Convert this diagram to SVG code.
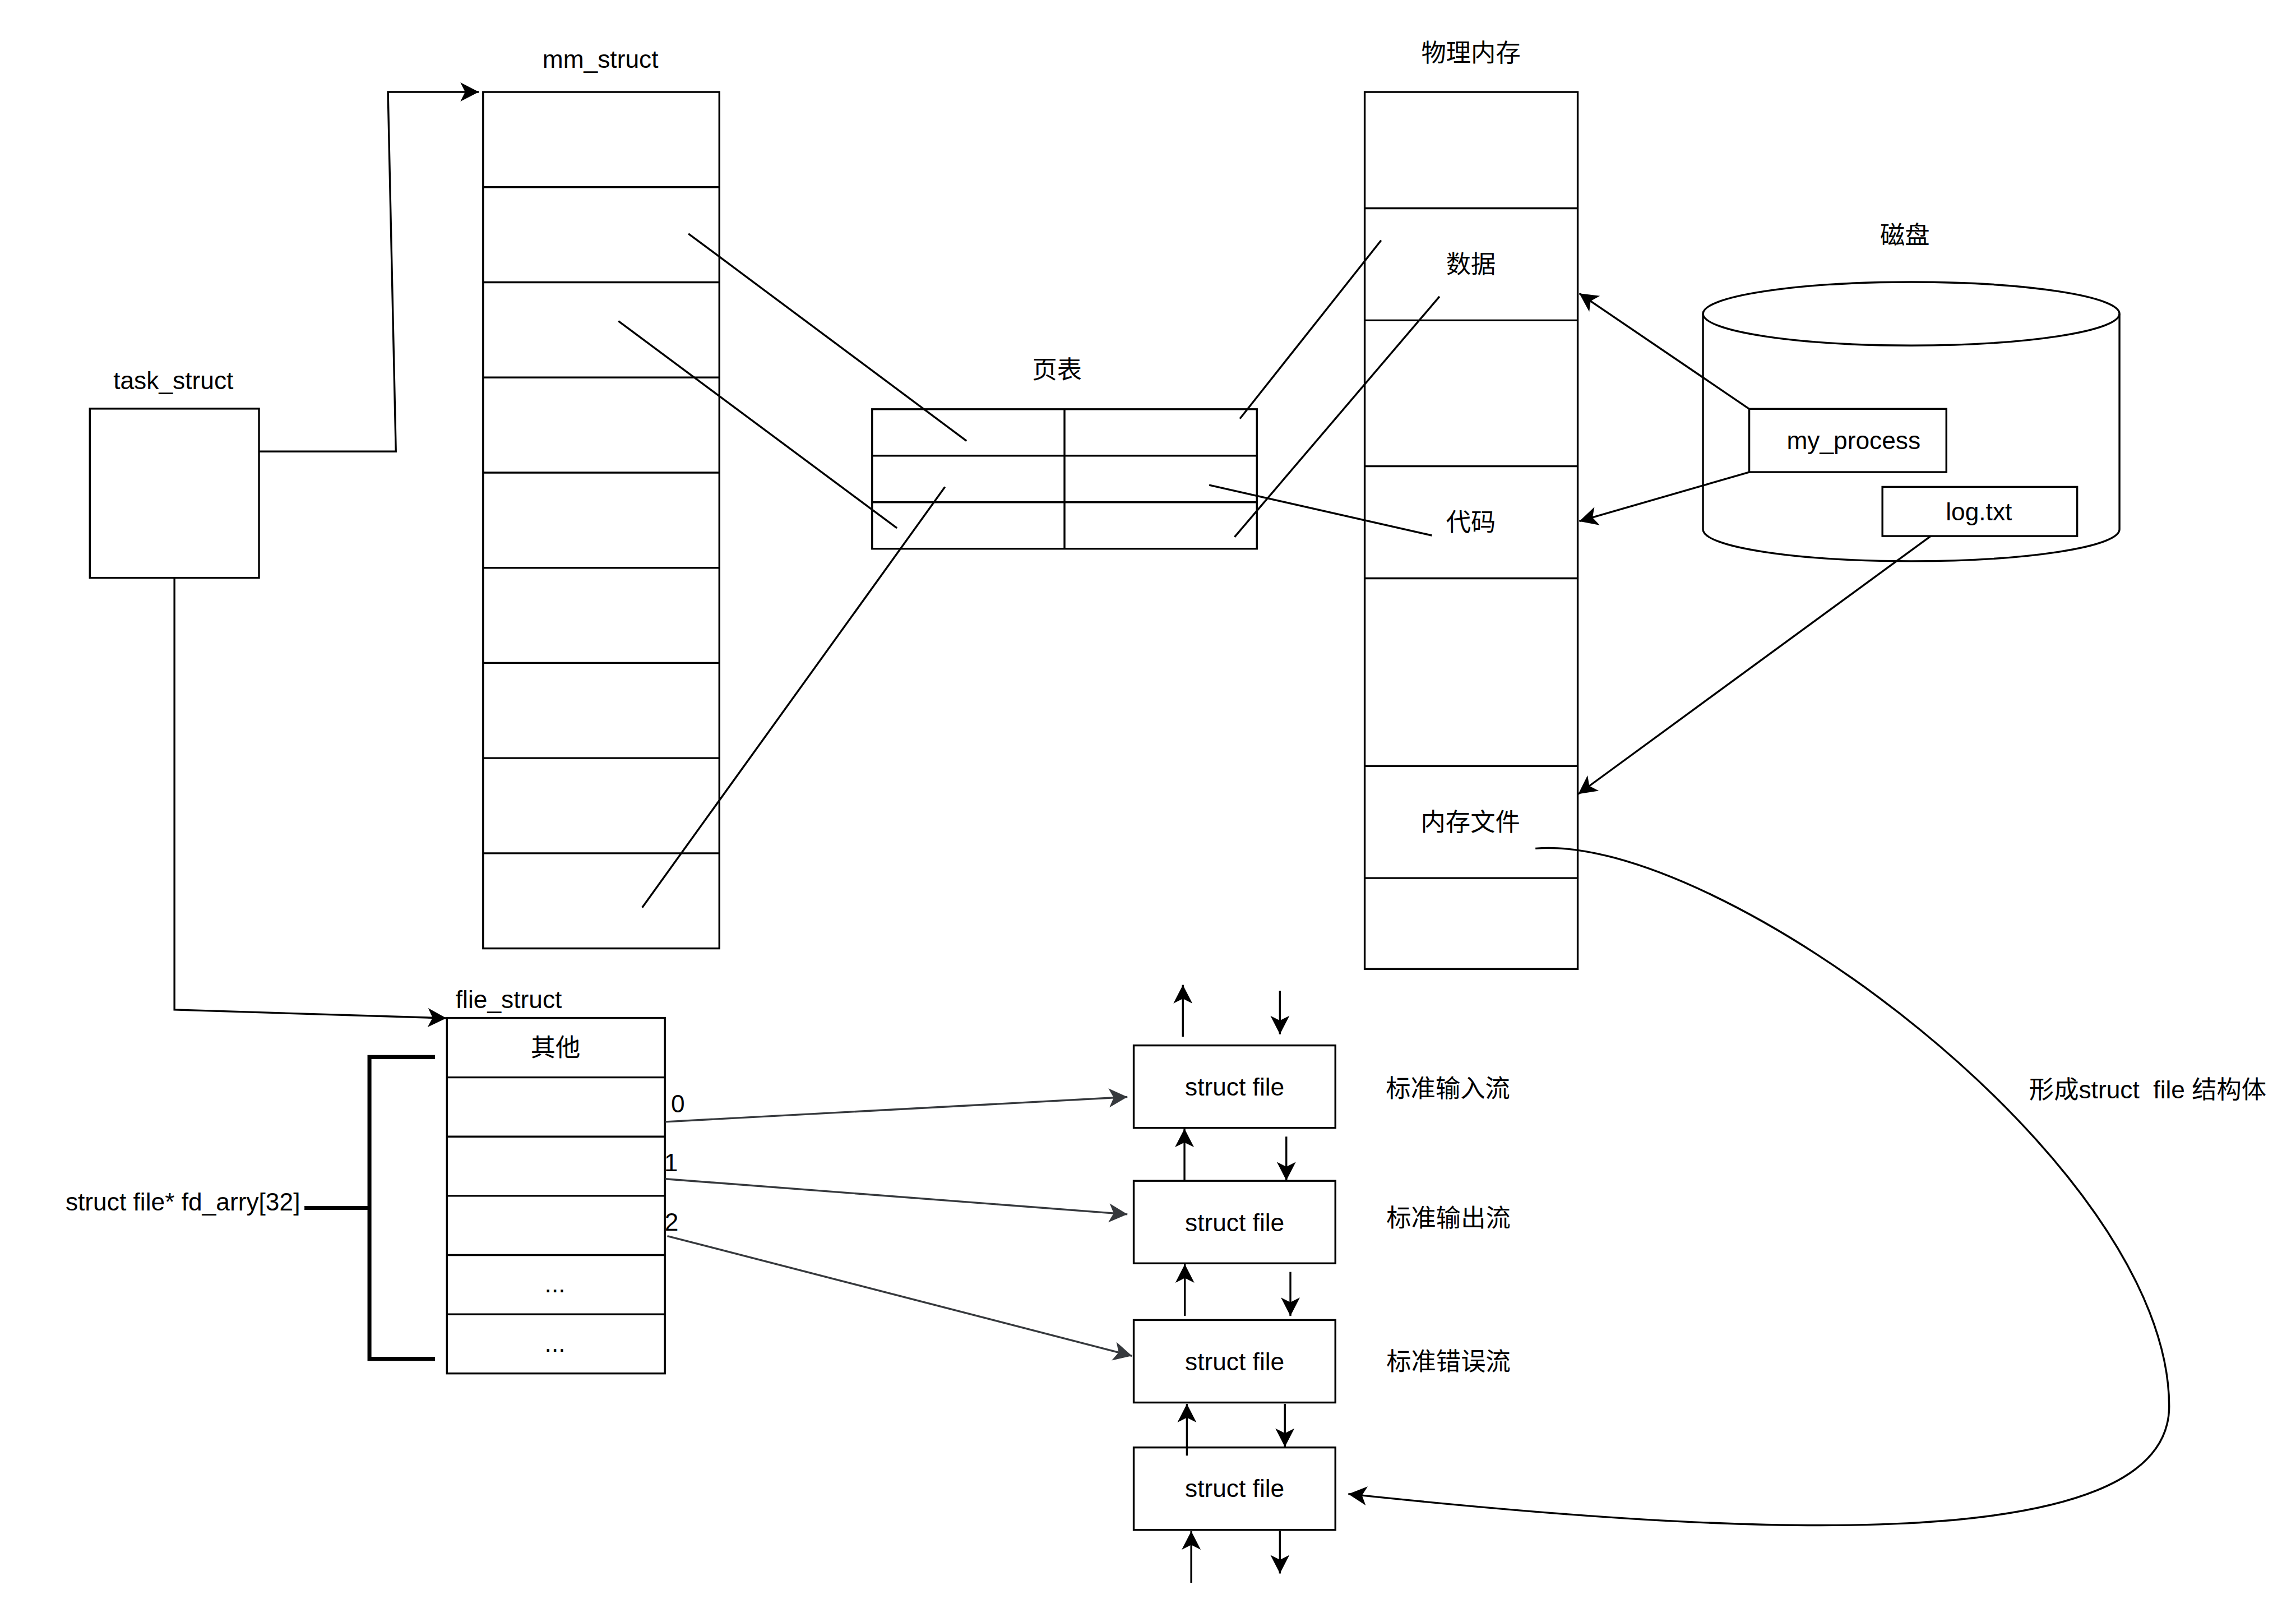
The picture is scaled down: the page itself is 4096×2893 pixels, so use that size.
<svg xmlns="http://www.w3.org/2000/svg" width="4096" height="2893" viewBox="0 0 4096 2893">
<defs>
<style>
.b{fill:#fff;stroke:#000;stroke-width:3.6}
.l{fill:none;stroke:#000;stroke-width:3.6}
.g{fill:none;stroke:#36393d;stroke-width:3.6}
.br{fill:none;stroke:#000;stroke-width:7.5}
text{font-family:"Liberation Sans",Arial,"Noto Sans CJK SC",sans-serif;font-size:47px;fill:#000}
.m{text-anchor:middle}
</style>
<marker id="a" markerUnits="userSpaceOnUse" markerWidth="40" markerHeight="40" viewBox="-36 -20 40 40" refX="0" refY="0" orient="auto" overflow="visible">
<path d="M0,0 L-35,-18 L-26,0 L-35,18 Z" fill="#000"/>
</marker>
<marker id="ag" markerUnits="userSpaceOnUse" markerWidth="40" markerHeight="40" viewBox="-36 -20 40 40" refX="0" refY="0" orient="auto" overflow="visible">
<path d="M0,0 L-35,-18 L-26,0 L-35,18 Z" fill="#36393d"/>
</marker>
</defs>
<rect width="4096" height="2893" fill="#fff"/>
<g transform="scale(0.94291)">
<g id="task_struct">
<rect class="b" x="170" y="773" width="320" height="320"/>
<text class="m" x="328" y="736">task_struct</text>
</g>
<g id="mm_struct">
<rect class="b" x="914" y="174" width="447" height="1620"/>
<path class="l" d="M914,354H1361M914,534H1361M914,714H1361M914,894H1361M914,1074H1361M914,1254H1361M914,1434H1361M914,1614H1361"/>
<text class="m" x="1136" y="128">mm_struct</text>
</g>
<g id="page_table">
<rect class="b" x="1650" y="774" width="728" height="264"/>
<path class="l" d="M1650,862H2378M1650,950H2378M2014,774V1038"/>
<text class="m" x="2000" y="716">页表</text>
</g>
<g id="phys_mem">
<rect class="b" x="2582" y="174" width="403" height="1659"/>
<path class="l" d="M2582,394H2985M2582,606H2985M2582,882H2985M2582,1094H2985M2582,1449H2985M2582,1661H2985"/>
<text class="m" x="2783" y="117">物理内存</text>
<text class="m" x="2783" y="517">数据</text>
<text class="m" x="2783" y="1004">代码</text>
<text class="m" x="2782" y="1572">内存文件</text>
</g>
<g id="disk">
<path class="b" d="M3222,593.5 L3222,1001.5 A394,60 0 0 0 4010,1001.5 L4010,593.5 A394,60 0 0 0 3222,593.5 Z"/>
<path class="l" d="M3222,593.5 A394,60 0 0 0 4010,593.5"/>
<text class="m" x="3604" y="461">磁盘</text>
</g>
<g id="my_process">
<rect class="b" x="3309.5" y="773.5" width="373" height="119.5"/>
<text class="m" x="3507" y="849">my_process</text>
</g>
<g id="log_txt">
<rect class="b" x="3561.5" y="921" width="368.5" height="93"/>
<text class="m" x="3744" y="984">log.txt</text>
</g>
<g id="flie_struct">
<rect class="b" x="845.6" y="1925.5" width="412.4" height="672.5"/>
<path class="l" d="M845.6,2038H1258M845.6,2150H1258M845.6,2262H1258M845.6,2374H1258M845.6,2486H1258"/>
<text x="862" y="1907">flie_struct</text>
<text class="m" x="1051" y="1998">其他</text>
<text class="m" x="1050" y="2445">...</text>
<text class="m" x="1050" y="2557">...</text>
</g>
<g id="fd_array_label">
<text x="124" y="2290">struct file* fd_arry[32]</text>
<path class="br" d="M823,1999.5 L699,1999.5 L699,2570.4 L823,2570.4 M576,2285 L699,2285"/>
</g>
<g id="sf1">
<rect class="b" x="2145" y="1977.5" width="381.5" height="156"/>
<text class="m" x="2336" y="2072">struct file</text>
</g>
<g id="sf2">
<rect class="b" x="2145" y="2233.7" width="381.5" height="156"/>
<text class="m" x="2336" y="2328.5">struct file</text>
</g>
<g id="sf3">
<rect class="b" x="2145" y="2497" width="381.5" height="156"/>
<text class="m" x="2336" y="2592">struct file</text>
</g>
<g id="sf4">
<rect class="b" x="2145" y="2738" width="381.5" height="156"/>
<text class="m" x="2336" y="2832">struct file</text>
</g>
<g id="labels">
<text x="2622" y="2076">标准输入流</text>
<text x="2623" y="2320">标准输出流</text>
<text x="2623" y="2592">标准错误流</text>
<text x="3839" y="2078" xml:space="preserve" style="white-space:pre">形成struct  file 结构体</text>
<text x="1269.5" y="2103.6">0</text>
<text x="1256.6" y="2216">1</text>
<text x="1257.6" y="2328">2</text>
</g>
<g id="connectors">
<path class="l" d="M490,854 L749,854 L734,174 L906,174" marker-end="url(#a)"/>
<path class="l" d="M330,1093 L330,1910 L844.5,1926" marker-end="url(#a)"/>
<path class="l" d="M3309.5,773.5 L2988,555" marker-end="url(#a)"/>
<path class="l" d="M3309.5,893 L2988,986" marker-end="url(#a)"/>
<path class="l" d="M3653,1014 L2986,1502" marker-end="url(#a)"/>
<path class="l" d="M1302.5,442 L1828.6,834 M1170,607.3 L1697,999 M1787.8,921.2 L1215,1716.7 M2345.9,792 L2613,454.7 M2335.7,1015.8 L2723.5,561 M2287.7,917.5 L2709,1012.8"/>
<path class="l" d="M2905,1605 C3250,1575 4104,2200 4104,2660 C4104,2950 3300,2905 2551,2826" marker-end="url(#a)"/>
<path class="g" d="M1259,2122 L2133,2075" marker-end="url(#ag)"/>
<path class="g" d="M1259,2230 L2133,2297" marker-end="url(#ag)"/>
<path class="g" d="M1262.6,2338 L2141.6,2564.7" marker-end="url(#ag)"/>
<path class="l" d="M2238,1961 V1863" marker-end="url(#a)"/>
<path class="l" d="M2421.6,1874 V1956.4" marker-end="url(#a)"/>
<path class="l" d="M2241,2233.7 V2135" marker-end="url(#a)"/>
<path class="l" d="M2433.7,2150 V2233" marker-end="url(#a)"/>
<path class="l" d="M2241.7,2489 V2391.4" marker-end="url(#a)"/>
<path class="l" d="M2441.4,2406 V2489.3" marker-end="url(#a)"/>
<path class="l" d="M2245.6,2753.4 V2655.5" marker-end="url(#a)"/>
<path class="l" d="M2431,2655.5 V2737" marker-end="url(#a)"/>
<path class="l" d="M2253.8,2994 V2896.3" marker-end="url(#a)"/>
<path class="l" d="M2421.6,2896 V2976.4" marker-end="url(#a)"/>
</g>
</g>
</svg>
